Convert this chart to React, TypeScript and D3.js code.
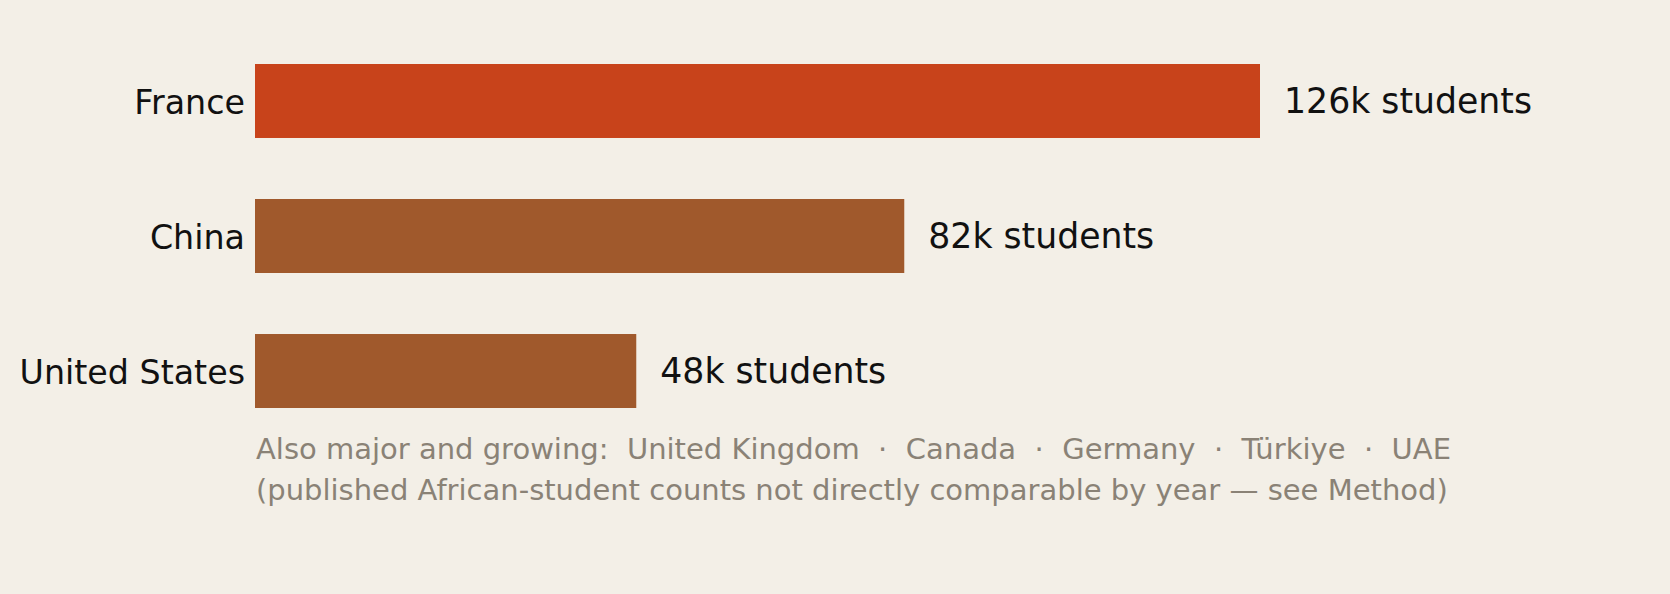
import * as d3 from "d3";
import { useEffect, useRef } from "react";

const countries = ["France", "China", "United States"];
const students = [126, 81.4, 47.8];
const valueLabels = ["126k students", "82k students", "48k students"];
const barColors = ["#C8431B", "#A0592C", "#A0592C"];
const noteLines = [
  "Also major and growing:  United Kingdom  ·  Canada  ·  Germany  ·  Türkiye  ·  UAE",
  "(published African-student counts not directly comparable by year — see Method)",
];

export default function App() {
  const ref = useRef<SVGSVGElement>(null);

  useEffect(() => {
    const width = 1670;
    const height = 594;
    const font = "'DejaVu Sans', sans-serif";

    const svg = d3.select(ref.current);
    svg.selectAll("*").remove();
    svg.attr("width", width).attr("height", height);

    svg.append("rect").attr("width", width).attr("height", height).attr("fill", "#F3EFE7");

    const x = d3.scaleLinear().domain([0, 126]).range([255, 1260]);
    const y = d3.scaleBand()
      .domain(countries)
      .range([23.5, 448.5])
      .paddingInner(0.452)
      .paddingOuter(0.3);

    const rows = countries.map((c, i) => ({ c, v: students[i], lab: valueLabels[i], col: barColors[i] }));

    svg.selectAll("rect.bar")
      .data(rows)
      .enter()
      .append("rect")
      .attr("class", "bar")
      .attr("x", x(0))
      .attr("y", d => y(d.c)!)
      .attr("width", d => x(d.v) - x(0))
      .attr("height", y.bandwidth())
      .attr("fill", d => d.col);

    svg.selectAll("text.cat")
      .data(rows)
      .enter()
      .append("text")
      .attr("class", "cat")
      .attr("x", x(0) - 10)
      .attr("y", d => y(d.c)! + y.bandwidth() / 2)
      .attr("dy", "0.38em")
      .attr("text-anchor", "end")
      .attr("font-family", font)
      .attr("font-size", 33.3)
      .attr("fill", "#111")
      .text(d => d.c);

    svg.selectAll("text.val")
      .data(rows)
      .enter()
      .append("text")
      .attr("class", "val")
      .attr("x", d => x(d.v) + 24)
      .attr("y", d => y(d.c)! + y.bandwidth() / 2)
      .attr("dy", "0.34em")
      .attr("font-family", font)
      .attr("font-size", 34.7)
      .attr("fill", "#111")
      .text(d => d.lab);

    svg.selectAll("text.note")
      .data(noteLines)
      .enter()
      .append("text")
      .attr("class", "note")
      .attr("x", x(0) + 1)
      .attr("y", (_, i) => 459 + i * 41)
      .attr("font-family", font)
      .attr("font-size", 29)
      .attr("fill", "#8A8276")
      .style("white-space", "pre")
      .text(d => d);
  }, []);

  return <svg ref={ref} style={{ position: "absolute", left: 0, top: 0 }} />;
}
